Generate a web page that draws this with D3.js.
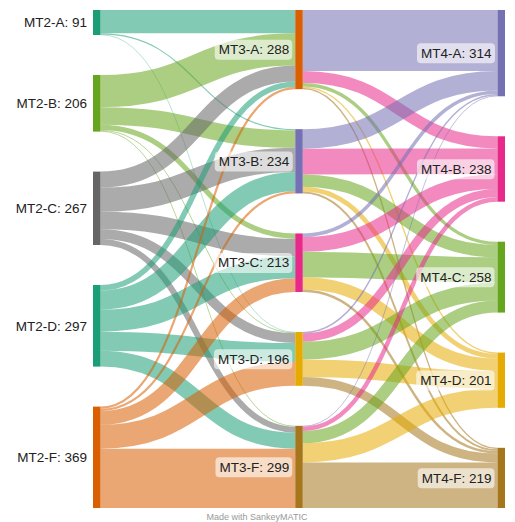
<!DOCTYPE html>
<html><head><meta charset="utf-8">
<script src="https://cdn.jsdelivr.net/npm/d3@7"></script>
<style>html,body{margin:0;padding:0;background:#fff;} svg{display:block;}</style>
</head><body><svg id="chart" width="515" height="522"></svg>
<script>
const mt2Nodes = ["MT2-A","MT2-B","MT2-C","MT2-D","MT2-F"];
const mt3Nodes = ["MT3-A","MT3-B","MT3-C","MT3-D","MT3-F"];
const mt4Nodes = ["MT4-A","MT4-B","MT4-C","MT4-D","MT4-F"];
// rows: source MT2-x, columns: target MT3-x
const mt2ToMt3 = [
  [85, 4, 0, 2, 0],
  [117, 64, 19, 3, 3],
  [58, 88, 64, 35, 22],
  [20, 70, 80, 69, 58],
  [8, 8, 50, 87, 216]
];
// rows: source MT3-x, columns: target MT4-x
const mt3ToMt4 = [
  [222, 44, 12, 5, 5],
  [71, 94, 45, 17, 7],
  [13, 54, 92, 45, 9],
  [5, 30, 65, 64, 32],
  [3, 16, 44, 70, 166]
];
const mt2Colors = ["#1b9e77","#66a61e","#666666","#1b9e77","#d95f02"];
const mt3Colors = ["#d95f02","#7570b3","#e7298a","#e6ab02","#a6761d"];
const mt4Colors = ["#7570b3","#e7298a","#66a61e","#e6ab02","#a6761d"];

const svg = d3.select("#chart");
const topY = 10, bottomY = 508, pad = 40, nodeW = 7.5;
const font = "'Liberation Sans', Arial, Helvetica, sans-serif";

const colNames = [mt2Nodes, mt3Nodes, mt4Nodes];
const colColors = [mt2Colors, mt3Colors, mt4Colors];
const matrices = [mt2ToMt3, mt3ToMt4];

const colValues = [
  mt2ToMt3.map(r => d3.sum(r)),
  mt3Nodes.map((_, j) => Math.max(d3.sum(mt2ToMt3, r => r[j]), d3.sum(mt3ToMt4[j]))),
  mt4Nodes.map((_, j) => d3.sum(mt3ToMt4, r => r[j]))
];
const maxTotal = d3.max(colValues, v => d3.sum(v));
const yScale = d3.scaleLinear().domain([0, maxTotal]).range([0, (bottomY - topY) - pad * 4]);
const xScale = d3.scaleLinear().domain([0, 2]).range([93, 497.5]);

const nodes = colNames.map((names, c) => {
  let acc = topY;
  return names.map((name, i) => {
    const h = yScale(colValues[c][i]);
    const n = {name, col: c, idx: i, value: colValues[c][i], color: colColors[c][i],
      x0: xScale(c), x1: xScale(c) + nodeW, y0: acc, y1: acc + h, outOff: 0, inOff: 0};
    acc += h + pad;
    return n;
  });
});

const links = [];
matrices.forEach((m, s) => {
  m.forEach((row, i) => row.forEach((v, j) => {
    if (v > 0) {
      const src = nodes[s][i], tgt = nodes[s + 1][j];
      links.push({source: src, target: tgt, value: v, width: yScale(v),
        color: s === 0 ? src.color : tgt.color});
    }
  }));
});
nodes.forEach(col => col.forEach(n => {
  links.filter(l => l.source === n).sort((a, b) => a.target.idx - b.target.idx)
    .forEach(l => { l.sy = n.y0 + n.outOff + l.width / 2; n.outOff += l.width; });
  links.filter(l => l.target === n).sort((a, b) => a.source.idx - b.source.idx)
    .forEach(l => { l.ty = n.y0 + n.inOff + l.width / 2; n.inOff += l.width; });
}));

const linkGen = d3.linkHorizontal();
svg.append("g").attr("fill", "none")
  .selectAll("path").data(links).join("path")
  .attr("d", l => linkGen({source: [l.source.x1, l.sy], target: [l.target.x0, l.ty]}))
  .attr("stroke", l => l.color)
  .attr("stroke-opacity", 0.55)
  .attr("stroke-width", l => l.width);

const allNodes = nodes.flat();
svg.append("g").selectAll("rect").data(allNodes).join("rect")
  .attr("x", n => n.x0).attr("y", n => n.y0)
  .attr("width", nodeW).attr("height", n => n.y1 - n.y0)
  .attr("fill", n => n.color);

const lg = svg.append("g");
allNodes.forEach(n => {
  const g = lg.append("g");
  const t = g.append("text")
    .attr("x", n.x0 - 6).attr("y", (n.y0 + n.y1) / 2).attr("dy", "0.35em")
    .attr("text-anchor", "end")
    .attr("font-family", font).attr("font-size", 13.5).attr("fill", "#222")
    .text(n.name + ": " + n.value);
  if (n.col > 0) {
    const b = t.node().getBBox();
    g.insert("rect", "text")
      .attr("x", b.x - 4).attr("y", b.y - 2.5)
      .attr("width", b.width + 7).attr("height", b.height + 5)
      .attr("rx", 4).attr("fill", "#fff").attr("fill-opacity", 0.6);
  }
});

svg.append("text").attr("x", 257).attr("y", 520).attr("text-anchor", "middle")
  .attr("font-family", font).attr("font-size", 9).attr("fill", "#999")
  .text("Made with SankeyMATIC");
</script>
</body></html>
